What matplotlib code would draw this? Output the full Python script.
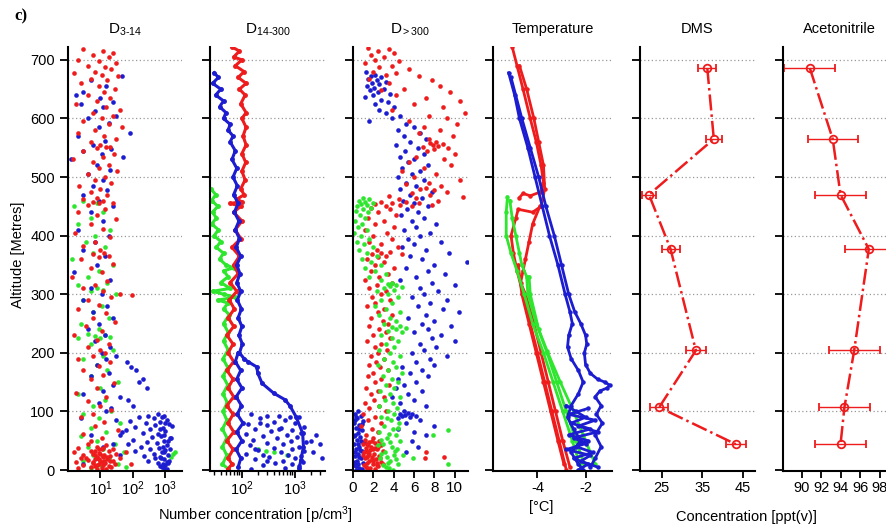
import numpy as np
import matplotlib
matplotlib.use('Agg')
import matplotlib.pyplot as plt
from matplotlib.ticker import LogLocator, NullFormatter, LogFormatterMathtext, FixedLocator

plt.rcParams['font.family'] = 'Liberation Sans'
plt.rcParams['mathtext.fontset'] = 'custom'
plt.rcParams['mathtext.rm'] = 'Liberation Sans'
plt.rcParams['mathtext.it'] = 'Liberation Sans'

RED = '#ee1c1c'
BLUE = '#1c1cd0'
GREEN = '#2ee62e'

### data : (altitude [m], value)

# D3-14 [p/cm3]
d314_red = [(718, 3), (715, 12), (712, 25), (708, 6), (705, 18), (700, 2), (698, 9), (695, 30), (690, 4), (688, 14),
            (684, 22), (680, 7), (678, 1.5), (675, 11), (672, 35), (668, 5), (665, 16), (660, 2.5), (655, 9), (650, 28),
            (645, 13), (640, 4), (635, 20), (630, 8), (625, 1.8), (620, 15), (615, 40), (610, 6), (605, 24), (600, 11),
            (595, 3), (590, 18), (585, 45), (580, 7), (575, 2), (570, 13), (565, 30), (560, 5), (555, 10), (552, 15),
            (551, 20), (550, 8), (545, 3), (540, 26), (535, 12), (530, 1.4), (525, 6), (520, 19), (515, 9), (510, 33),
            (505, 4), (500, 14), (495, 7), (490, 22), (485, 2.2), (480, 10), (475, 5), (470, 16), (465, 8), (462, 3),
            (460, 12), (458, 6), (456, 25), (455, 9), (453, 4), (445, 14), (440, 2), (435, 8), (428, 30), (420, 5),
            (412, 12), (405, 1.6), (398, 20), (390, 7), (382, 3), (375, 10), (370, 13), (368, 6), (366, 18), (364, 9),
            (360, 2.5), (352, 25), (345, 5), (338, 11), (330, 1.3), (322, 16), (315, 7), (310, 3), (305, 12), (300, 40),
            (298, 95), (295, 22), (290, 4), (282, 9), (275, 2), (268, 15), (260, 6), (252, 28), (245, 3.5), (238, 11),
            (230, 1.5), (222, 8), (215, 18), (210, 4), (205, 10), (200, 14), (195, 6), (190, 2), (185, 20), (178, 9),
            (170, 3), (162, 12), (155, 5), (148, 26), (140, 8), (132, 1.8), (125, 15), (118, 4), (110, 10), (102, 22),
            (96, 6), (90, 2.5), (82, 13), (75, 7), (68, 35), (62, 3), (55, 11), (50, 5), (45, 4), (42, 15), (40, 8),
            (38, 2), (36, 25), (35, 11), (33, 5), (32, 18), (30, 1.5), (29, 9), (28, 30), (27, 6), (26, 13), (25, 3),
            (24, 20), (23, 8), (22, 12), (21, 2.5), (20, 40), (19, 7), (18, 16), (17, 4), (16, 10), (15, 24), (14, 6),
            (13, 1.8), (12, 14), (11, 9), (10, 28), (9, 3), (8, 12), (7, 7), (6, 19), (5, 5), (4, 11), (3, 2), (2, 15),
            (1, 8), (30, 60), (10, 90), (20, 3.5), (25, 7), (15, 13), (35, 9), (5, 22),
            (28, 10), (24, 12), (18, 9), (14, 11), (8, 8), (32, 7), (38, 12), (12, 6), (22, 16), (16, 20)]
d314_blue = [(672, 45), (665, 5), (655, 15), (645, 3), (640, 1.8), (635, 10), (628, 25), (625, 2.5), (620, 12), (612, 7),
             (605, 30), (600, 4), (592, 18), (585, 9), (575, 80), (570, 2), (562, 14), (555, 6), (548, 22), (545, 3),
             (540, 11), (535, 50), (530, 1.2), (520, 8), (512, 20), (505, 4), (495, 12), (485, 6), (478, 16), (470, 3),
             (460, 9), (450, 25), (440, 5), (425, 12), (410, 2), (400, 18), (390, 7), (375, 3), (365, 14), (350, 8),
             (338, 1.5), (325, 20), (310, 5), (300, 11), (290, 3), (280, 16), (270, 6), (260, 25), (250, 9), (240, 4),
             (230, 14), (220, 7), (210, 20), (200, 11), (195, 30), (190, 15), (185, 65), (180, 8), (175, 90), (170, 130),
             (165, 18), (160, 5), (155, 200), (150, 150), (145, 25), (140, 280), (135, 12), (130, 3), (125, 40), (120, 70),
             (115, 9), (110, 100), (105, 22), (100, 15), (95, 600), (93, 300), (92, 900), (90, 150), (88, 450), (86, 1100),
             (84, 80), (82, 700), (80, 250), (78, 1300), (76, 500), (74, 120), (72, 850), (70, 350), (68, 60), (66, 1000),
             (64, 200), (62, 600), (60, 40), (58, 750), (56, 400), (54, 1400), (52, 100), (50, 900), (48, 280), (46, 550),
             (44, 70), (42, 1100), (40, 180), (38, 650), (36, 350), (34, 1000), (32, 120), (30, 800), (28, 450), (26, 1200),
             (24, 220), (22, 700), (20, 500), (18, 950), (16, 300), (14, 1100), (12, 600), (10, 850), (8, 1000), (6, 700),
             (4, 900), (2, 1100), (85, 30), (65, 45), (45, 25), (75, 1600), (55, 1500), (35, 1400), (15, 1300), (25, 40),
             (5, 800), (12, 1200), (20, 750), (30, 950), (40, 850), (50, 1200), (60, 900), (70, 700), (80, 1000), (90, 800),
             (88, 2.5), (60, 5), (40, 12), (20, 8), (10, 3)]
d314_green = [(460, 3), (455, 8), (450, 1.5), (440, 12), (430, 5), (420, 2), (410, 20), (400, 7), (390, 3.5), (380, 14),
              (370, 6), (360, 1.3), (350, 25), (340, 9), (330, 4), (320, 16), (315, 2), (310, 8), (308, 12), (305, 5),
              (300, 30), (290, 3), (280, 11), (270, 6), (260, 18), (250, 2.5), (240, 9), (232, 4), (230, 14), (228, 7),
              (227, 20), (226, 2), (225, 10), (215, 5), (205, 25), (195, 12), (190, 3), (180, 8), (170, 16), (160, 5),
              (150, 35), (140, 10), (130, 2), (120, 14), (110, 6), (100, 22), (95, 3), (88, 9), (80, 40), (72, 5),
              (65, 15), (58, 2.5), (50, 8), (45, 28), (40, 4), (35, 12), (30, 55), (25, 6), (20, 18), (15, 3), (10, 35),
              (8, 10), (5, 60), (3, 5), (28, 1700), (22, 1500), (30, 2000)]

# D14-300 [p/cm3] (flight tracks)
d14_red = [(722, 65), (715, 90), (705, 70), (700, 100), (690, 75), (680, 110), (670, 85), (660, 120), (650, 90), (640, 115),
           (625, 95), (610, 120), (600, 100), (585, 120), (570, 105), (555, 120), (540, 100), (525, 118), (510, 100),
           (495, 115), (480, 95), (470, 110), (462, 80), (458, 100), (455, 60), (450, 95), (440, 70), (425, 100), (410, 75),
           (395, 95), (380, 65), (365, 90), (350, 70), (335, 85), (320, 60), (305, 80), (290, 58), (275, 72), (260, 55),
           (245, 70), (230, 52), (215, 68), (200, 55), (185, 70), (170, 52), (155, 68), (140, 55), (125, 70), (110, 52),
           (95, 68), (80, 55), (65, 70), (50, 52), (35, 68), (20, 55), (10, 65), (2, 55)]
d14_blue = [(678, 30), (670, 36), (660, 28), (650, 40), (640, 32), (630, 45), (620, 38), (610, 50), (600, 45), (590, 60),
            (580, 55), (570, 68), (560, 60), (545, 75), (530, 65), (515, 80), (500, 68), (485, 82), (470, 70), (455, 85),
            (440, 72), (425, 88), (410, 75), (395, 90), (380, 78), (365, 95), (350, 80), (335, 92), (320, 80), (305, 95),
            (290, 82), (275, 98), (260, 85), (245, 100), (230, 88), (215, 102), (200, 90), (190, 110), (185, 130),
            (176, 190), (165, 200), (148, 240), (131, 400), (120, 650), (110, 800), (91, 1050), (63, 1400), (40, 1450),
            (17, 1300), (3, 1200)]
d14_blue_col = [(200, 85), (185, 75), (170, 95), (155, 80), (140, 100), (125, 78), (110, 98), (95, 82), (80, 105),
                (65, 80), (50, 100), (35, 78), (20, 95), (5, 85)]
d14_blue_blob = [(95, 150), (93, 300), (92, 500), (91, 800), (90, 1200), (88, 220), (85, 650), (82, 400), (80, 1000),
                 (78, 130), (76, 300), (74, 1500), (72, 550), (70, 180), (68, 900), (66, 350), (64, 1300), (62, 120),
                 (60, 700), (58, 250), (56, 1100), (54, 450), (52, 160), (50, 850), (48, 1600), (46, 300), (44, 600),
                 (42, 140), (40, 1200), (38, 400), (36, 900), (34, 200), (32, 1500), (30, 550), (28, 120), (26, 750),
                 (24, 1300), (22, 320), (20, 1000), (18, 180), (16, 600), (14, 1400), (12, 420), (10, 900), (8, 250),
                 (6, 1200), (4, 650), (2, 150), (60, 2500), (45, 3000), (30, 2200), (20, 3300), (50, 2000), (35, 180),
                 (25, 250), (15, 300), (80, 220), (70, 500)]
d14_green = [(480, 26), (470, 32), (460, 27), (450, 35), (440, 28), (430, 33), (420, 27), (410, 36), (400, 30), (390, 40),
             (380, 33), (370, 45), (360, 38), (350, 50), (345, 70), (340, 45), (330, 55), (320, 40), (310, 60), (305, 28),
             (300, 45), (295, 75), (290, 35), (285, 55), (275, 45), (265, 58), (250, 45), (235, 55), (220, 45), (205, 55),
             (190, 44), (175, 54), (160, 44), (145, 54), (130, 44), (115, 53), (100, 44), (85, 52), (70, 43), (55, 52),
             (40, 43), (25, 52), (10, 43), (2, 55)]
d14_green_pts = [(35, 200), (30, 400), (25, 700), (32, 280)]

# D>300 [p/cm3]
d300_red = [(720, 1.5), (718, 3.5), (715, 2.5), (712, 4.0), (708, 1.8), (705, 3.0), (700, 2.2), (698, 4.5), (695, 1.2),
            (690, 3.8), (688, 2.6), (685, 5.5), (680, 2.0), (678, 4.2), (675, 3.2), (672, 6.5), (668, 1.6), (665, 7.8),
            (660, 3.5), (655, 8.5), (650, 5.0), (648, 2.8), (645, 9.5), (640, 4.2), (635, 7.2), (630, 10.5), (625, 6.0),
            (620, 8.8), (615, 3.8), (610, 11.0), (605, 7.5), (600, 9.2), (595, 5.5), (590, 10.2), (585, 7.0), (580, 8.5),
            (575, 6.5), (570, 9.8), (565, 7.5), (560, 8.2), (558, 7.6), (556, 8.8), (555, 7.9), (553, 8.4), (551, 6.9),
            (550, 9.3), (548, 8.0), (545, 7.3), (540, 10.0), (535, 6.2), (530, 8.9), (525, 5.5), (520, 9.6), (515, 7.0),
            (510, 4.8), (505, 8.2), (500, 6.0), (495, 10.5), (490, 7.5), (488, 5.2), (485, 8.6), (482, 7.2), (480, 6.6),
            (478, 8.0), (475, 9.2), (472, 5.8), (470, 7.6), (468, 3.5), (466, 10.8), (464, 6.2), (462, 4.5), (460, 8.4),
            (458, 2.8), (457, 5.2), (456, 3.8), (455, 6.5), (454, 2.2), (453, 4.6), (452, 7.8), (451, 3.2), (450, 5.8),
            (448, 1.8), (445, 3.6), (440, 2.5), (435, 4.2), (430, 1.5), (425, 3.0), (420, 2.2), (415, 4.0), (410, 1.2),
            (405, 3.3), (400, 2.0), (395, 3.8), (390, 1.6), (385, 2.8), (380, 4.4), (375, 2.4), (372, 3.6), (370, 2.8),
            (369, 4.8), (368, 1.9), (366, 3.2), (364, 2.5), (360, 1.4), (355, 3.0), (350, 2.2), (345, 4.0), (340, 1.8),
            (335, 3.4), (330, 2.6), (325, 1.2), (320, 3.8), (315, 2.4), (310, 1.6), (305, 3.2), (300, 2.8), (295, 1.9),
            (290, 3.6), (285, 2.2), (280, 1.4), (275, 3.0), (270, 2.5), (265, 3.8), (260, 1.8), (255, 2.9), (250, 3.4),
            (245, 1.6), (240, 2.6), (235, 3.2), (230, 2.0), (225, 3.6), (220, 1.4), (215, 2.8), (210, 2.2), (205, 3.3),
            (200, 2.5), (195, 1.8), (190, 3.0), (185, 2.3), (180, 1.6), (175, 2.7), (170, 3.4), (165, 2.0), (160, 1.5),
            (155, 2.8), (150, 2.2), (145, 3.5), (140, 1.3), (135, 2.5), (130, 1.8), (125, 3.0), (120, 2.1), (115, 1.2),
            (110, 2.6), (105, 1.6), (100, 3.2), (95, 1.0), (90, 2.2), (85, 1.5), (80, 2.8), (75, 0.8), (70, 1.9),
            (65, 2.5), (60, 1.3), (55, 2.0), (52, 1.2), (50, 2.6), (48, 1.6), (46, 2.2), (44, 1.0), (42, 2.8), (40, 1.8),
            (38, 1.3), (36, 2.4), (34, 1.7), (32, 2.9), (30, 1.1), (28, 2.1), (26, 1.5), (24, 2.6), (22, 1.9), (20, 1.2),
            (18, 2.3), (16, 1.6), (14, 2.8), (12, 1.4), (10, 2.0), (8, 1.1), (6, 2.5), (4, 1.7), (2, 2.2), (45, 1.4),
            (35, 2.0), (25, 1.0), (15, 2.0), (5, 1.3), (40, 2.5), (20, 2.7), (30, 1.5), (10, 2.9), (50, 1.9), (38, 2.2),
            (28, 1.6), (18, 1.9), (8, 2.4), (22, 1.4), (12, 2.4), (32, 1.3), (42, 1.5), (3, 1.4), (20, 7.1), (23, 8.9),
            (30, 7.2)]
d300_blue = [(680, 1.3), (675, 2.2), (672, 1.8), (670, 2.8), (668, 1.5), (665, 2.4), (662, 3.2), (660, 1.9), (658, 2.6),
             (655, 1.4), (652, 2.1), (650, 3.0), (648, 1.7), (645, 2.5), (642, 3.6), (640, 2.0), (636, 1.2), (632, 2.8),
             (628, 3.4), (625, 2.2), (620, 4.0), (615, 2.6), (610, 3.2), (605, 4.6), (600, 3.8), (595, 1.6), (590, 5.2),
             (585, 6.0), (580, 4.4), (575, 6.6), (570, 5.0), (565, 7.2), (560, 5.6), (555, 4.2), (550, 6.4), (545, 5.1),
             (540, 7.0), (535, 4.6), (530, 6.0), (525, 5.4), (520, 7.4), (515, 4.8), (510, 6.6), (505, 5.8), (500, 4.4),
             (495, 7.0), (490, 5.2), (485, 6.2), (480, 4.6), (475, 7.8), (470, 5.6), (465, 6.8), (460, 4.9), (455, 6.0),
             (450, 7.4), (445, 5.3), (440, 6.4), (435, 4.7), (430, 7.0), (425, 5.8), (420, 8.2), (415, 6.2), (410, 5.0),
             (405, 7.6), (400, 6.6), (395, 5.4), (390, 8.6), (385, 6.0), (380, 4.8), (375, 7.2), (370, 9.4), (365, 5.6),
             (360, 6.8), (355, 11.2), (350, 8.0), (345, 5.2), (340, 7.4), (335, 9.0), (330, 6.2), (325, 4.6), (320, 7.8),
             (315, 10.0), (310, 6.6), (305, 8.4), (300, 7.0), (295, 5.8), (290, 9.2), (285, 7.6), (280, 6.4), (275, 8.8),
             (270, 10.4), (265, 7.2), (260, 5.4), (255, 8.0), (250, 6.8), (245, 9.6), (240, 7.4), (235, 6.0), (230, 8.6),
             (225, 7.8), (220, 10.0), (215, 6.6), (210, 8.2), (205, 7.0), (200, 5.8), (195, 9.2), (190, 7.6), (185, 6.2),
             (180, 8.0), (175, 4.8), (170, 6.8), (165, 5.6), (160, 7.4), (155, 4.4), (150, 6.2), (145, 5.0), (140, 4.2),
             (135, 6.8), (130, 5.4), (125, 3.8), (120, 6.0), (115, 4.6), (110, 7.2), (100, 5.0), (98, 5.4), (96, 4.6),
             (95, 5.8), (94, 5.1), (93, 6.2), (92, 4.8), (90, 5.6), (88, 4.4), (85, 6.6), (80, 5.2), (75, 8.0), (70, 4.4),
             (65, 6.0), (60, 7.2), (50, 5.8), (40, 6.4), (30, 5.2), (100, 0.5), (96, 0.2), (92, 0.8), (88, 0.4), (84, 1.0),
             (80, 0.1), (76, 0.6), (72, 0.3), (68, 0.9), (64, 0.5), (60, 0.2), (56, 0.7), (52, 0.4), (48, 1.1), (44, 0.1),
             (40, 0.6), (36, 0.3), (32, 0.9), (28, 0.5), (24, 0.2), (20, 0.8), (16, 0.4), (12, 1.0), (8, 0.1), (4, 0.6),
             (0, 0.3), (90, 0.3), (70, 0.6), (50, 0.8), (30, 0.2), (10, 0.5), (2, 0.9), (58, 0.05), (34, 0.7), (14, 0.15),
             (78, 0.85), (45, 0.45), (22, 0.55), (6, 0.25), (86, 0.15)]
d300_green = [(465, 1.0), (462, 1.6), (460, 0.6), (458, 1.2), (456, 2.0), (454, 0.8), (452, 1.4), (450, 0.4), (448, 1.8),
              (445, 1.0), (442, 0.3), (440, 1.5), (435, 0.7), (430, 1.2), (425, 0.2), (420, 0.9), (415, 0.5), (410, 1.4),
              (405, 0.1), (400, 0.8), (395, 1.6), (390, 0.4), (385, 1.1), (380, 2.0), (375, 0.6), (370, 1.4), (365, 2.4),
              (360, 0.9), (355, 1.8), (350, 2.8), (345, 1.2), (340, 2.2), (335, 3.2), (330, 1.6), (325, 2.8), (320, 3.8),
              (318, 3.4), (315, 4.2), (314, 3.6), (312, 4.8), (310, 3.0), (308, 4.0), (305, 2.4), (300, 3.4), (295, 4.4),
              (290, 2.8), (285, 3.8), (280, 2.2), (275, 3.2), (270, 4.6), (265, 2.6), (260, 3.6), (255, 4.2), (250, 3.0),
              (246, 4.6), (244, 3.8), (242, 5.2), (240, 4.2), (238, 3.4), (235, 4.8), (230, 2.8), (225, 3.8), (220, 4.4),
              (215, 3.2), (210, 4.0), (205, 2.6), (200, 3.6), (195, 4.6), (190, 3.0), (185, 3.9), (180, 2.5), (175, 4.2),
              (170, 3.4), (165, 4.8), (160, 2.9), (155, 3.8), (150, 4.4), (145, 3.2), (140, 4.0), (135, 2.7), (130, 3.6),
              (125, 4.6), (120, 3.1), (115, 3.9), (110, 2.6), (105, 4.3), (100, 3.4), (95, 4.0), (90, 2.8), (85, 3.7),
              (80, 4.5), (75, 3.0), (70, 3.9), (65, 2.6), (60, 4.2), (55, 3.3), (50, 4.6), (45, 2.9), (40, 3.8), (35, 4.3),
              (30, 3.1), (25, 4.0), (20, 2.7), (15, 3.6), (10, 4.4), (5, 3.2), (0, 3.9), (62, 3.5), (42, 2.5), (22, 3.3),
              (8, 2.9), (72, 4.4), (52, 2.8), (32, 4.1), (12, 3.4), (88, 3.3), (48, 3.6), (28, 2.8), (18, 4.2), (3, 3.5),
              (68, 9.3), (60, 7.9), (20, 5.9), (10, 9.3), (25, 4.9)]

# Temperature [degC] (flight tracks)
temp_red = [
    [(722, -5.05), (690, -4.85), (650, -4.6), (600, -4.3), (560, -4.05), (520, -3.85), (490, -3.75), (475, -3.85),
     (468, -4.3), (472, -4.6), (465, -4.75)],
    [(690, -4.75), (650, -4.45), (600, -4.15), (560, -3.95), (520, -3.75), (480, -3.7), (450, -3.85), (440, -4.2),
     (445, -4.8), (430, -4.9), (400, -5.1), (370, -5.0), (340, -4.85), (300, -4.6), (250, -4.3), (200, -4.0),
     (150, -3.7), (100, -3.4), (50, -3.1), (0, -2.8)],
    [(450, -3.9), (420, -4.2), (390, -4.35), (360, -4.5), (340, -4.6), (320, -4.7), (300, -4.5), (250, -4.15),
     (200, -3.85), (150, -3.55), (100, -3.25), (50, -2.95), (5, -2.65)],
    [(350, -4.8), (300, -4.65), (250, -4.35), (200, -4.05), (150, -3.75), (100, -3.45), (50, -3.15), (10, -2.9)],
]
temp_green = [
    [(466, -5.25), (440, -5.3), (400, -5.3), (370, -5.1), (340, -4.85), (300, -4.55), (250, -4.2), (200, -3.75),
     (150, -3.35), (100, -2.95), (50, -2.55), (10, -2.25), (0, -2.15)],
    [(460, -5.15), (430, -5.05), (400, -4.9), (370, -4.75), (350, -4.65), (330, -4.45), (300, -4.4), (250, -4.05),
     (200, -3.6), (150, -3.2), (100, -2.8), (50, -2.4), (10, -2.05)],
    [(330, -4.35), (300, -4.3), (240, -3.95), (203, -3.6), (150, -3.05), (100, -2.5), (60, -2.1), (30, -1.8), (10, -1.6)],
]
temp_blue = [
    [(678, -5.2), (640, -4.95), (600, -4.75), (550, -4.4), (500, -4.1), (450, -3.8), (400, -3.5), (350, -3.15),
     (300, -2.85), (270, -2.65), (250, -2.55), (230, -2.7), (210, -2.75), (190, -2.6), (170, -2.3), (150, -2.1),
     (130, -2.3), (110, -2.6), (90, -2.75), (70, -2.5), (50, -2.2), (30, -2.6), (10, -2.3), (0, -2.1)],
    [(670, -5.1), (600, -4.65), (550, -4.3), (500, -3.95), (450, -3.65), (400, -3.3), (350, -3.0), (300, -2.7),
     (270, -2.45), (250, -2.2), (230, -2.0), (215, -1.95), (200, -2.05), (180, -2.0), (165, -1.8), (155, -1.5),
     (150, -1.2), (145, -1.0), (140, -1.1), (135, -1.4), (125, -1.6), (110, -1.35), (95, -1.55), (80, -1.3),
     (60, -1.6), (40, -1.35), (20, -1.6), (5, -1.8)],
    [(110, -2.8), (100, -2.4), (90, -2.0), (80, -2.6), (70, -1.8), (60, -2.7), (50, -1.9), (40, -2.4), (30, -1.7),
     (20, -2.5), (10, -1.9), (0, -2.3)],
    [(105, -1.9), (95, -2.7), (85, -1.6), (75, -2.3), (65, -1.5), (55, -2.5), (45, -2.0), (35, -2.8), (25, -1.8),
     (15, -2.2), (5, -1.5)],
]

# DMS and Acetonitrile [ppt(v)]
chem_alt = [686, 565, 470, 377, 204, 107, 44]
dms_val = [36.2, 37.8, 21.9, 27.2, 33.4, 24.4, 43.2]
dms_err = [2.2, 1.9, 1.8, 2.2, 2.4, 2.2, 2.4]
acn_val = [90.85, 93.2, 94.0, 96.9, 95.4, 94.4, 94.0]
acn_err = [2.6, 2.55, 2.6, 2.4, 2.6, 2.6, 2.6]

alt_grid = [100, 200, 300, 400, 500, 600, 700]

W, H = 886, 525
fig = plt.figure(figsize=(W / 100, H / 100), dpi=100)


def px_axes(l, r, t=47, b=471):
    return fig.add_axes([l / W, 1 - b / H, (r - l) / W, (b - t) / H])


def style(ax, first=False):
    for s in ['top', 'right']:
        ax.spines[s].set_visible(False)
    for s in ['left', 'bottom']:
        ax.spines[s].set_linewidth(1.5)
    ax.set_ylim(-1.7, 722)
    ax.set_yticks([0, 100, 200, 300, 400, 500, 600, 700])
    ax.tick_params(axis='y', direction='out', length=6, width=1.3, labelsize=10.5, labelleft=first)
    ax.tick_params(axis='x', which='major', direction='out', length=5, width=1.3, labelsize=10.5, pad=2.5)
    ax.tick_params(axis='x', which='minor', direction='out', length=3, width=1)
    for y in alt_grid:
        ax.axhline(y, color='#9a9a9a', ls=(0, (1, 2)), lw=0.9, zorder=0)


def pts(data):
    a = np.array(data, dtype=float)
    return a[:, 1], a[:, 0]


def log_axis(ax, lo, hi, ticks):
    ax.set_xscale('log')
    ax.set_xlim(lo, hi)
    ax.xaxis.set_major_locator(FixedLocator(ticks))
    ax.xaxis.set_major_formatter(LogFormatterMathtext())
    ax.xaxis.set_minor_locator(LogLocator(base=10, subs=np.arange(2, 10)))
    ax.xaxis.set_minor_formatter(NullFormatter())
    ax.tick_params(axis='x', which='major', pad=1)


S = 11

### panel 1 : D3-14
ax1 = px_axes(68, 182)
style(ax1, first=True)
log_axis(ax1, 1, 3300, [10, 100, 1000])
for data, c in [(d314_green, GREEN), (d314_blue, BLUE), (d314_red, RED)]:
    x, y = pts(data)
    ax1.scatter(x, y, s=S, color=c, lw=0)
ax1.set_title(r'D$_{\text{3-14}}$', fontsize=11, pad=10)

### panel 2 : D14-300
ax2 = px_axes(210, 325)
style(ax2)
log_axis(ax2, 25, 3700, [100, 1000])
x, y = pts(d14_green)
ax2.plot(x, y, color=GREEN, lw=2.2, marker='o', ms=2.5)
x, y = pts(d14_green_pts)
ax2.scatter(x, y, s=S, color=GREEN, lw=0)
x, y = pts(d14_red)
ax2.plot(x, y, color=RED, lw=2.2, marker='o', ms=2.5)
for data in [d14_blue, d14_blue_col]:
    x, y = pts(data)
    ax2.plot(x, y, color=BLUE, lw=2.2, marker='o', ms=2.5)
x, y = pts(d14_blue_blob)
ax2.scatter(x, y, s=S, color=BLUE, lw=0)
ax2.set_title(r'D$_{\text{14-300}}$', fontsize=11, pad=10)

### panel 3 : D>300
ax3 = px_axes(353, 468)
style(ax3)
ax3.set_xlim(0, 11.3)
ax3.set_xticks([0, 2, 4, 6, 8, 10])
ax3.tick_params(axis='x', labelsize=11)
for data, c in [(d300_blue, BLUE), (d300_red, RED), (d300_green, GREEN)]:
    x, y = pts(data)
    ax3.scatter(x, y, s=S, color=c, lw=0)
ax3.set_title(r'D$_{>300}$', fontsize=11, pad=10)

### panel 4 : temperature
ax4 = px_axes(493, 612)
style(ax4)
ax4.set_xlim(-5.85, -0.9)
ax4.set_xticks([-4, -2])
ax4.set_xticklabels(['-4', '-2'])
for tracks, c in [(temp_red, RED), (temp_green, GREEN), (temp_blue, BLUE)]:
    for tr in tracks:
        x, y = pts(tr)
        ax4.plot(x, y, color=c, lw=2, marker='o', ms=2.2)
ax4.set_title('Temperature', fontsize=10.5, pad=10)

### panel 5 : DMS
ax5 = px_axes(640, 755)
style(ax5)
ax5.set_xlim(19.7, 47.9)
ax5.set_xticks([25, 35, 45])
ax5.errorbar(dms_val, chem_alt, xerr=dms_err, color=RED, ls='-.', lw=1.8, marker='o', ms=5.5,
             mfc='none', mew=1.3, elinewidth=1, capsize=3)
ax5.set_title('DMS', fontsize=10.5, pad=10)

### panel 6 : acetonitrile (cut at the figure edge as in the original)
ax6 = px_axes(783, 900)
style(ax6)
ax6.set_xlim(88.1, 100.1)
ax6.set_xticks([90, 92, 94, 96, 98])
ax6.errorbar(acn_val, chem_alt, xerr=acn_err, color=RED, ls='-.', lw=1.8, marker='o', ms=5.5,
             mfc='none', mew=1.3, elinewidth=1, capsize=3)
ax6.set_title('Acetonitrile', fontsize=10.5, pad=10, x=0.48)

### labels
fig.text(14 / W, 1 - 16 / H, 'c)', fontfamily='Liberation Serif', fontweight='bold', fontsize=12, va='center')
fig.text(18 / W, 1 - 255 / H, 'Altitude [Metres]', rotation=90, ha='center', va='center', fontsize=10.5)
fig.text(255 / W, 1 - 515 / H, r'Number concentration [p/cm$^3$]', ha='center', va='center', fontsize=10.5)
fig.text(541 / W, 1 - 507 / H, '[°C]', ha='center', va='center', fontsize=10.5)
fig.text(746 / W, 1 - 517 / H, 'Concentration [ppt(v)]', ha='center', va='center', fontsize=10.5)

fig.savefig('out.png', dpi=100)
